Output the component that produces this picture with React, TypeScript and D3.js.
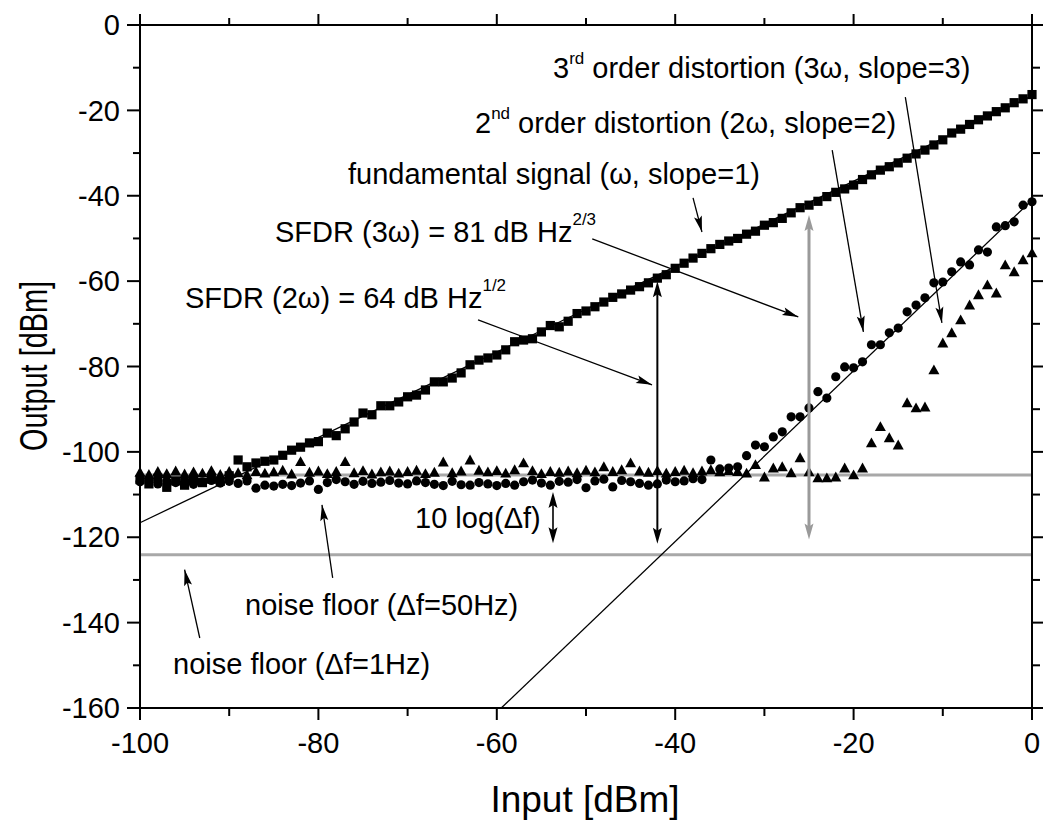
import React from "react";
import * as d3 from "d3";

const INPUT = [
  -100, -99, -98, -97, -96, -95, -94, -93, -92, -91, -90, -89, -88, -87, -86, -85, -84, -83, -82, -81,
  -80, -79, -78, -77, -76, -75, -74, -73, -72, -71, -70, -69, -68, -67, -66, -65, -64, -63, -62, -61,
  -60, -59, -58, -57, -56, -55, -54, -53, -52, -51, -50, -49, -48, -47, -46, -45, -44, -43, -42, -41,
  -40, -39, -38, -37, -36, -35, -34, -33, -32, -31, -30, -29, -28, -27, -26, -25, -24, -23, -22, -21,
  -20, -19, -18, -17, -16, -15, -14, -13, -12, -11, -10, -9, -8, -7, -6, -5, -4, -3, -2, -1, 0,
];

// fundamental signal (squares)
const FUNDAMENTAL = [
  -106.5, -107.5, -106.2, -108.3, -106.8, -107.8, -106.5, -107.2, -106.4, -106.9, -105.6, -101.9, -103.5, -102.6, -102.2, -101.9, -100.8, -99.6, -98.9, -97.9,
  -97.6, -95.6, -96.2, -94.6, -93.0, -90.9, -91.3, -89.2, -89.2, -88.3, -87.1, -86.7, -85.5, -83.6, -83.6, -82.7, -81.5, -79.6, -78.5, -78.0,
  -77.3, -76.1, -74.2, -73.8, -73.5, -71.9, -70.4, -70.7, -69.4, -67.6, -67.0, -66.0, -64.9, -63.8, -63.0, -62.1, -61.3, -60.4, -59.3, -58.5,
  -57.0, -55.8, -54.6, -53.5, -52.4, -51.4, -50.6, -50.0, -49.0, -48.3, -46.9, -46.3, -45.3, -44.0, -42.8, -42.2, -41.3, -40.2, -39.2, -38.4,
  -37.5, -36.2, -35.1, -34.0, -33.2, -32.3, -31.2, -30.2, -29.3, -28.1, -26.9, -25.3, -24.4, -23.3, -22.2, -21.3, -20.3, -19.4, -18.2, -17.3, -16.3,
];

// 2nd order distortion (circles)
const SECOND = [
  -107.0, -106.5, -107.5, -106.8, -107.2, -106.6, -107.6, -107.0, -106.7, -107.3, -106.9, -107.4, -106.8, -108.5, -107.8, -108.0, -107.6, -107.9, -107.3, -106.8,
  -108.8, -107.2, -106.5, -107.0, -107.6, -106.9, -107.4, -107.1, -106.7, -107.3, -107.5, -106.8, -107.2, -107.6, -107.9, -106.9, -107.7, -107.8, -107.2, -107.5,
  -107.9, -107.4, -107.8, -107.0, -106.6, -107.3, -107.8, -106.9, -107.1, -106.5, -108.4, -106.8, -106.4, -108.2, -106.7, -107.0, -107.4, -107.8, -107.5, -106.6,
  -107.0, -106.8, -106.3, -106.5, -101.9, -104.0, -103.8, -103.5, -100.9, -98.4, -98.8, -96.5, -95.3, -91.8, -91.8, -89.7, -85.9, -87.4, -82.4, -80.1,
  -80.3, -78.9, -74.9, -74.9, -72.1, -71.0, -67.2, -65.6, -63.9, -60.4, -60.2, -57.8, -55.5, -56.2, -52.7, -53.2, -47.3, -47.0, -46.1, -42.2, -41.4,
];

// 3rd order distortion (triangles)
const THIRD = [
  -104.8, -105.3, -104.6, -105.1, -104.5, -105.2, -104.7, -105.0, -104.4, -105.3, -104.6, -104.9, -105.4, -104.6, -105.0, -104.7, -104.3, -105.2, -102.3, -104.8,
  -104.5, -105.1, -104.6, -102.3, -104.9, -104.4, -105.2, -104.7, -104.5, -105.0, -104.6, -104.3, -105.1, -104.8, -102.4, -104.9, -104.5, -101.9, -104.3, -104.7,
  -104.4, -105.0, -104.2, -102.6, -104.4, -105.1, -104.6, -104.8, -104.5, -104.9, -104.3, -104.7, -103.5, -104.6, -104.2, -102.6, -104.5, -104.8, -104.4, -105.0,
  -104.6, -104.3, -104.9, -104.5, -104.2, -104.7, -104.4, -104.6, -105.0, -103.0, -105.9, -103.8, -103.5, -104.9, -101.4, -104.7, -106.1, -106.1, -105.9, -103.8,
  -105.4, -103.8, -97.9, -94.1, -96.7, -98.4, -88.5, -89.7, -89.5, -80.8, -74.5, -72.1, -69.1, -65.6, -63.2, -60.9, -62.8, -56.2, -57.8, -55.0, -53.4,
];

const X_TICKS = [-100, -80, -60, -40, -20, 0];
const X_MINOR = [-90, -70, -50, -30, -10];
const Y_TICKS = [0, -20, -40, -60, -80, -100, -120, -140, -160];
const Y_MINOR = [-10, -30, -50, -70, -90, -110, -130, -150];

// fit lines [x, y]
const FIT_SLOPE1: [number, number][] = [[-100, -116.6], [0, -16.6]];
const FIT_SLOPE2: [number, number][] = [[-59.5, -160], [0, -41]];
const NOISE_50HZ = -105.4;
const NOISE_1HZ = -124.1;

// single-headed annotation arrows: [x1, y1, x2(tip), y2(tip)] in data units
const POINTER_ARROWS: [number, number, number, number][] = [
  [-14.2, -16.9, -10.1, -69.8],
  [-22.4, -29.3, -18.9, -71.9],
  [-38.0, -40.5, -37.0, -48.5],
  [-49.3, -50.1, -26.2, -68.4],
  [-62.1, -69.1, -42.6, -84.3],
  [-78.4, -129.5, -79.6, -112.4],
  [-93.3, -143.6, -95.0, -127.6],
];

const FONT = "'Liberation Sans', Arial, Helvetica, sans-serif";

export default function App() {
  const W = 1043;
  const H = 823;
  const x = d3.scaleLinear().domain([-100, 0]).range([140, 1032]);
  const y = d3.scaleLinear().domain([0, -160]).range([25, 708]);
  const line = d3.line<[number, number]>().x((d) => x(d[0])).y((d) => y(d[1]));

  const head = (x1: number, y1: number, x2: number, y2: number, len = 15, hw = 4, color = "#000", key?: string) => {
    const dx = x2 - x1;
    const dy = y2 - y1;
    const L = Math.hypot(dx, dy);
    const ux = dx / L;
    const uy = dy / L;
    const bx = x2 - ux * len;
    const by = y2 - uy * len;
    const px = -uy * hw;
    const py = ux * hw;
    const pts = `${x2},${y2} ${bx + px},${by + py} ${bx + ux * 3},${by + uy * 3} ${bx - px},${by - py}`;
    return <polygon key={key} points={pts} fill={color} />;
  };

  const doubleArrow = (xv: number, yTop: number, yBot: number, color: string, sw: number, key: string) => {
    const X = x(xv);
    const Y1 = y(yTop);
    const Y2 = y(yBot);
    return (
      <g key={key}>
        <line x1={X} y1={Y1 + 10} x2={X} y2={Y2 - 10} stroke={color} strokeWidth={sw} />
        {head(X, Y2, X, Y1, 16, 4.5, color)}
        {head(X, Y1, X, Y2, 16, 4.5, color)}
      </g>
    );
  };

  const tri = (cx: number, cy: number) => {
    const s = 5.5;
    return `${cx},${cy - s} ${cx + s},${cy + s * 0.8} ${cx - s},${cy + s * 0.8}`;
  };

  return (
    <svg width={W} height={H} style={{ position: "absolute", left: 0, top: 0, background: "#fff" }} fontFamily={FONT}>
      <rect x={0} y={0} width={W} height={H} fill="#fff" />
      {/* noise floor lines */}
      <line x1={x(-100)} x2={x(0)} y1={y(NOISE_50HZ)} y2={y(NOISE_50HZ)} stroke="#a8a8a8" strokeWidth={3} />
      <line x1={x(-100)} x2={x(0)} y1={y(NOISE_1HZ)} y2={y(NOISE_1HZ)} stroke="#a8a8a8" strokeWidth={3} />
      {/* fit lines */}
      <path d={line(FIT_SLOPE1) || ""} stroke="#000" strokeWidth={1.3} fill="none" />
      <path d={line(FIT_SLOPE2) || ""} stroke="#000" strokeWidth={1.3} fill="none" />

      {/* data */}
      {INPUT.map((v, i) => (
        <polygon key={"t" + i} points={tri(x(v), y(THIRD[i]))} fill="#000" />
      ))}
      {INPUT.map((v, i) => (
        <circle key={"c" + i} cx={x(v)} cy={y(SECOND[i])} r={4.6} fill="#000" />
      ))}
      {INPUT.map((v, i) => (
        <rect key={"s" + i} x={x(v) - 4.6} y={y(FUNDAMENTAL[i]) - 4.6} width={9.2} height={9.2} fill="#000" />
      ))}

      {/* vertical double arrows */}
      {doubleArrow(-25, -44.5, -120.5, "#9a9a9a", 3, "g1")}
      {doubleArrow(-42, -60.0, -121.5, "#000", 2, "b1")}
      {doubleArrow(-53.7, -109.4, -121.4, "#000", 1.6, "b2")}

      {/* pointer arrows */}
      {POINTER_ARROWS.map((a, i) => (
        <g key={"pa" + i}>
          <line x1={x(a[0])} y1={y(a[1])} x2={x(a[2])} y2={y(a[3])} stroke="#000" strokeWidth={1.3} />
          {head(x(a[0]), y(a[1]), x(a[2]), y(a[3]), 16, 4)}
        </g>
      ))}

      {/* axes frame */}
      <g stroke="#000" strokeWidth={2}>
        <line x1={140} x2={1032} y1={25} y2={25} />
        <line x1={140} x2={1032} y1={708} y2={708} />
        <line x1={140} x2={140} y1={25} y2={708} />
        <line x1={1032} x2={1032} y1={25} y2={708} />
        {X_TICKS.map((t) => (
          <g key={"xt" + t}>
            <line x1={x(t)} x2={x(t)} y1={708} y2={720} />
            <line x1={x(t)} x2={x(t)} y1={25} y2={14} />
          </g>
        ))}
        {X_MINOR.map((t) => (
          <g key={"xm" + t}>
            <line x1={x(t)} x2={x(t)} y1={708} y2={716} />
            <line x1={x(t)} x2={x(t)} y1={25} y2={18} />
          </g>
        ))}
        {Y_TICKS.map((t) => (
          <g key={"yt" + t}>
            <line x1={127} x2={140} y1={y(t)} y2={y(t)} />
            <line x1={1032} x2={1043} y1={y(t)} y2={y(t)} />
          </g>
        ))}
        {Y_MINOR.map((t) => (
          <g key={"ym" + t}>
            <line x1={133} x2={140} y1={y(t)} y2={y(t)} />
            <line x1={1032} x2={1040} y1={y(t)} y2={y(t)} />
          </g>
        ))}
      </g>
      {Y_TICKS.map((t) => (
        <text key={"yl" + t} x={120} y={y(t)} dy="0.35em" textAnchor="end" fontSize={29} fill="#000">
          {t}
        </text>
      ))}
      {X_TICKS.map((t) => (
        <text key={"xl" + t} x={x(t)} y={753} textAnchor="middle" fontSize={29} fill="#000">
          {t}
        </text>
      ))}
      <text x={585} y={812} textAnchor="middle" fontSize={37} fill="#000">Input [dBm]</text>
      <text
        transform="translate(47,366) rotate(-90)"
        textAnchor="middle"
        fontSize={38}
        textLength={170}
        lengthAdjust="spacingAndGlyphs"
        fill="#000"
      >
        Output [dBm]
      </text>

      {/* annotations */}
      <g fontSize={29} fill="#000">
        <text x={553} y={78}>
          3<tspan dy={-14} fontSize={17}>rd</tspan>
          <tspan dy={14}> order distortion (3ω, slope=3)</tspan>
        </text>
        <text x={475} y={133}>
          2<tspan dy={-14} fontSize={17}>nd</tspan>
          <tspan dy={14}> order distortion (2ω, slope=2)</tspan>
        </text>
        <text x={348} y={184}>fundamental signal (ω, slope=1)</text>
        <text x={275} y={242}>
          SFDR (3ω) = 81 dB Hz<tspan dy={-17} fontSize={17}>2/3</tspan>
        </text>
        <text x={185} y={308}>
          SFDR (2ω) = 64 dB Hz<tspan dy={-17} fontSize={17}>1/2</tspan>
        </text>
        <text x={415} y={528}>10 log(Δf)</text>
        <text x={245} y={615}>noise floor (Δf=50Hz)</text>
        <text x={173} y={674}>noise floor (Δf=1Hz)</text>
      </g>
    </svg>
  );
}
